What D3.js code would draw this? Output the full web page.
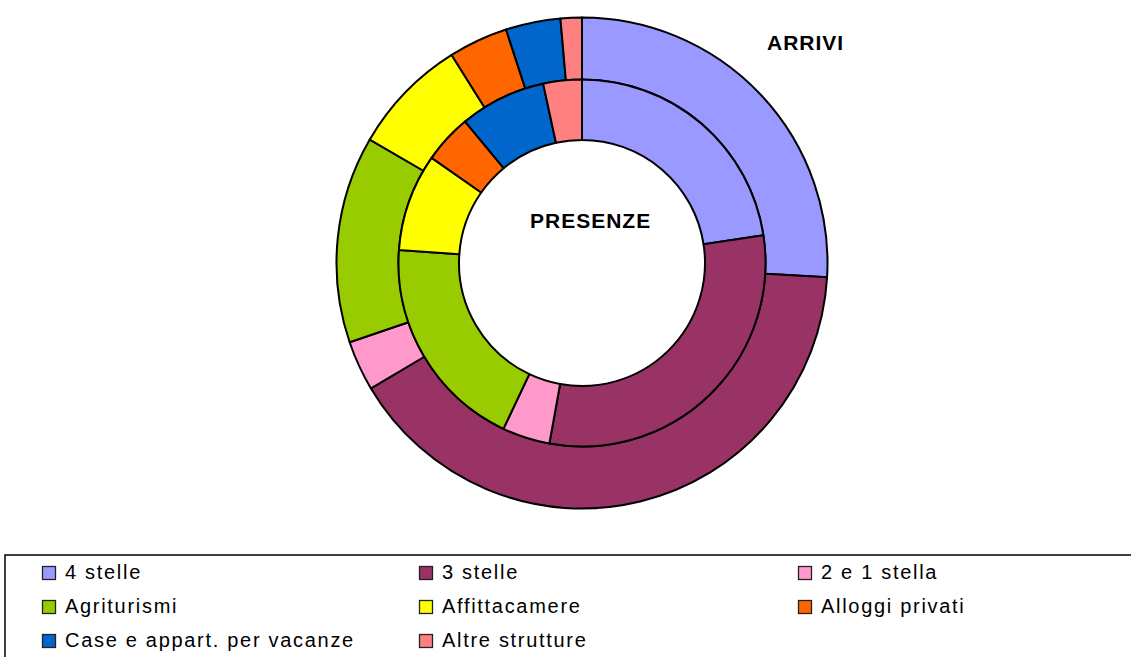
<!DOCTYPE html>
<html>
<head>
<meta charset="utf-8">
<script src="https://cdn.jsdelivr.net/npm/d3@7"></script>
<style>
  body { margin: 0; background: #fff; }
  svg { display: block; }
</style>
</head>
<body>
<div id="chart"></div>
<script>
'use strict'
// categories and colours
var categories = ["4 stelle", "3 stelle", "2 e 1 stella", "Agriturismi", "Affittacamere",
                  "Alloggi privati", "Case e appart. per vacanze", "Altre strutture"];
var colors = ["#9999FF", "#993366", "#FF99CC", "#99CC00", "#FFFF00", "#FF6600", "#0066CC", "#FF8080"];

// percentage shares
var arrivi   = [25.9, 40.5, 3.3, 13.6, 7.7, 3.9, 3.6, 1.4];
var presenze = [22.6, 30.3, 4.2, 19.1, 8.6, 4.3, 7.6, 3.4];

var width = 1131, height = 657,
    cx = 582, cy = 263,
    rOuter = 245.5, rMid = 183.5, rHole = 123;

var svg = d3.select("#chart").append("svg")
    .attr("width", width)
    .attr("height", height);

var pie = d3.pie().sort(null).value(function(d){ return d; });

//draw one ring
var drawRing = function(values, inner, outer, cls){
    var arc = d3.arc().innerRadius(inner).outerRadius(outer);
    svg.append("g")
        .attr("class", cls)
        .attr("transform", "translate(" + cx + "," + cy + ")")
        .selectAll("path")
        .data(pie(values))
        .enter()
        .append("path")
        .attr("d", arc)
        .attr("fill", function(d, i){ return colors[i]; })
        .attr("stroke", "#000")
        .attr("stroke-width", 2)
        .attr("stroke-linejoin", "round");
};

drawRing(arrivi, rMid, rOuter, "arrivi");
drawRing(presenze, rHole, rMid, "presenze");

svg.append("text")
    .attr("x", 767).attr("y", 50)
    .attr("font-family", "Liberation Sans, Arial, sans-serif")
    .attr("font-weight", "bold")
    .attr("font-size", "21px")
    .attr("letter-spacing", "1px")
    .text("ARRIVI");

svg.append("text")
    .attr("x", 530).attr("y", 228)
    .attr("font-family", "Liberation Sans, Arial, sans-serif")
    .attr("font-weight", "bold")
    .attr("font-size", "21px")
    .attr("letter-spacing", "1px")
    .text("PRESENZE");

// legend
svg.append("rect")
    .attr("x", 5).attr("y", 555)
    .attr("width", 1140).attr("height", 120)
    .attr("fill", "none")
    .attr("stroke", "#000")
    .attr("stroke-width", 1.5);

var colX = [42, 419, 798], rowY = [573, 607, 641];

var item = svg.append("g").attr("class", "legend")
    .selectAll("g")
    .data(categories)
    .enter()
    .append("g")
    .attr("transform", function(d, i){
        return "translate(" + colX[i % 3] + "," + rowY[Math.floor(i / 3)] + ")";
    });

item.append("rect")
    .attr("x", 0.5).attr("y", -6.5)
    .attr("width", 13).attr("height", 13)
    .attr("fill", function(d, i){ return colors[i]; })
    .attr("stroke", "#222")
    .attr("stroke-width", 1.3);

item.append("text")
    .attr("x", 23).attr("y", 6)
    .attr("font-family", "Liberation Sans, Arial, sans-serif")
    .attr("font-size", "20px")
    .attr("letter-spacing", "1.7px")
    .text(function(d){ return d; });
</script>
</body>
</html>
